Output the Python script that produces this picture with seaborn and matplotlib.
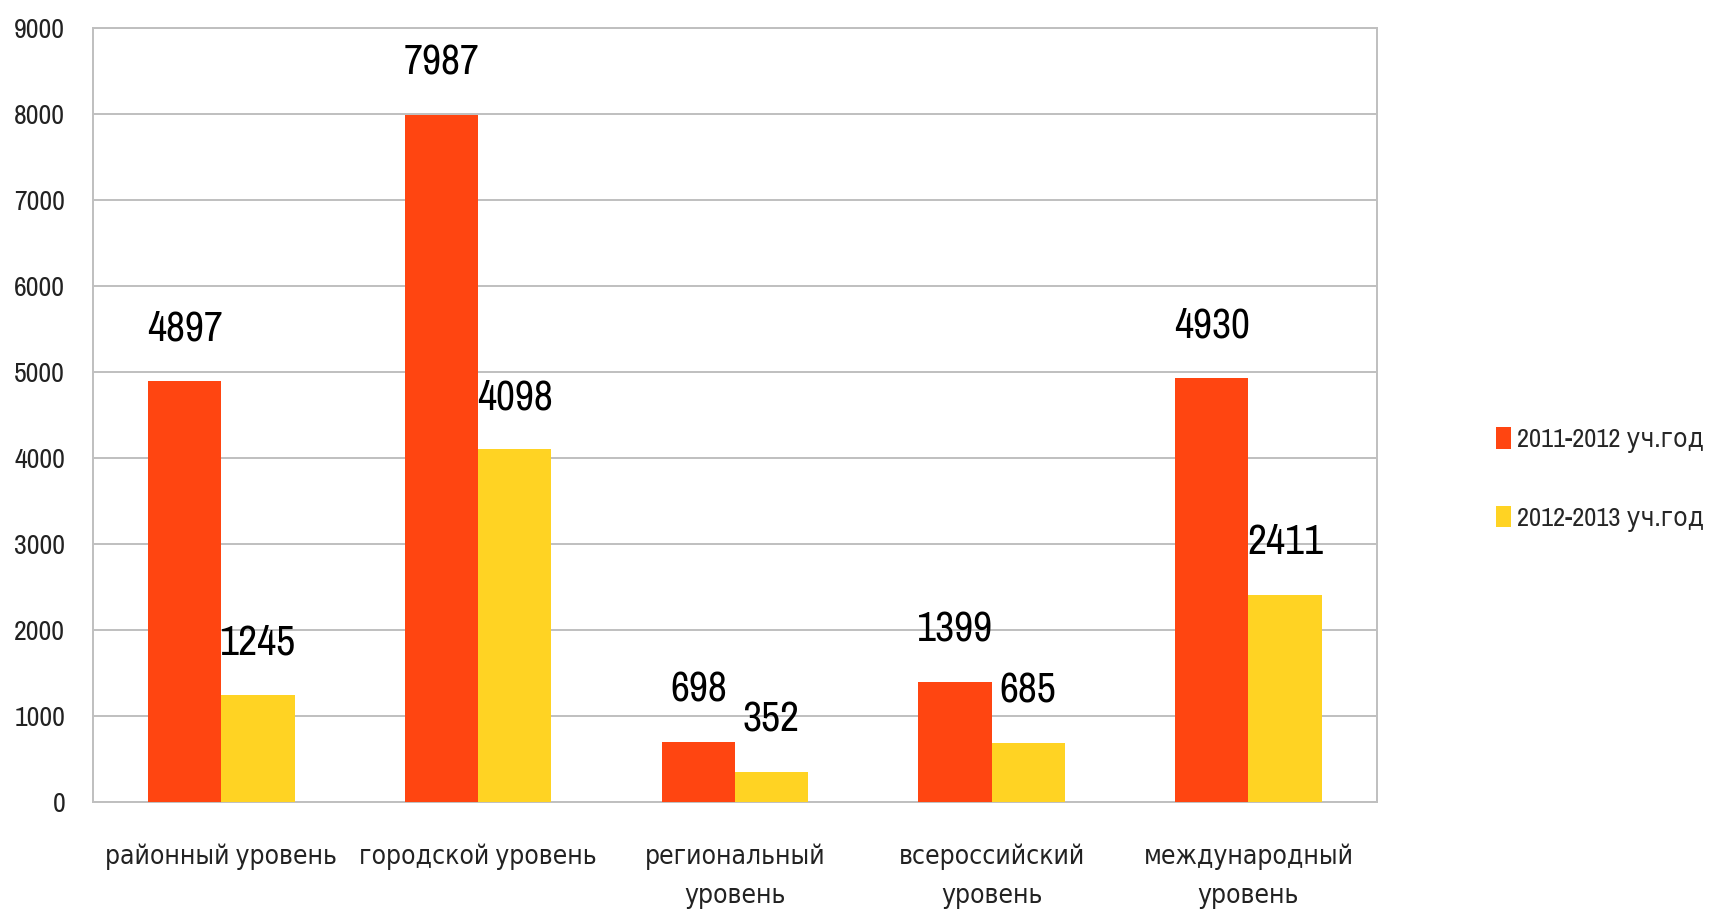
import matplotlib

matplotlib.use("Agg")

import matplotlib.pyplot as plt
import pandas as pd
import seaborn as sns
from matplotlib import font_manager

categories = [
    "районный уровень",
    "городской уровень",
    "региональный\nуровень",
    "всероссийский\nуровень",
    "международный\nуровень",
]
series_names = ["2011-2012 уч.год", "2012-2013 уч.год"]
values_2011 = [4897, 7987, 698, 1399, 4930]
values_2012 = [1245, 4098, 352, 685, 2411]
colors = ["#FF4511", "#FFD323"]

df = pd.DataFrame({
    "category": categories * 2,
    "year": [series_names[0]] * len(categories) + [series_names[1]] * len(categories),
    "value": values_2011 + values_2012,
})


def pick_narrow_font():
    # look for a condensed / narrow face among the installed fonts
    found = []
    for f in font_manager.fontManager.ttflist:
        path = f.fname.lower()
        if ("narrow" in path or "condensed" in path or "semicondensed" in path) \
                and f.weight in (400, "normal", "regular") and f.style == "normal" \
                and "bold" not in path and "light" not in path and "oblique" not in path:
            found.append(f)
    found.sort(key=lambda f: (0 if "narrow" in f.fname.lower() else
                              1 if "semicondensed" not in f.fname.lower() else 2))
    return found[0] if found else None


sns.set_theme(style="white")
narrow = pick_narrow_font()
if narrow is not None:
    plt.rcParams["font.family"] = [narrow.name, "DejaVu Sans"]
    plt.rcParams["font.stretch"] = narrow.stretch
    label_size, tick_size, ytick_size, legend_size = 30, 19, 20, 19
else:
    plt.rcParams["font.family"] = ["DejaVu Sans"]
    label_size, tick_size, ytick_size, legend_size = 24, 15, 16, 14

fig = plt.figure(figsize=(17.21, 9.22), dpi=100)
ax = fig.add_axes([0.054, 0.130, 0.746, 0.840])

sns.barplot(data=df, x="category", y="value", hue="year", palette=colors,
            width=0.57, saturation=1, ax=ax, zorder=3, linewidth=0)

for container in ax.containers:
    ax.bar_label(container, fmt="%d", padding=24, fontsize=label_size, color="black")

ax.set_ylim(0, 9000)
ax.set_yticks(range(0, 9001, 1000))
ax.yaxis.grid(True, color="#BFBFBF", linewidth=1.4, zorder=0)
ax.set_axisbelow(True)
for side in ["left", "right", "top", "bottom"]:
    ax.spines[side].set_visible(True)
    ax.spines[side].set_color("#BFBFBF")
    ax.spines[side].set_linewidth(1.4)
ax.tick_params(axis="y", length=0, pad=20, labelsize=ytick_size, labelcolor="#222222")
ax.tick_params(axis="x", length=0, pad=30, labelsize=tick_size, labelcolor="#222222")
for lbl in ax.get_xticklabels():
    lbl.set_linespacing(1.7)
ax.set_xlabel("")
ax.set_ylabel("")

ax.legend(loc="center left", bbox_to_anchor=(1.074, 0.417), frameon=False,
          fontsize=legend_size, handlelength=0.6, handleheight=0.9, handletextpad=0.2,
          labelspacing=2.0)

plt.savefig("out.png", dpi=100)
plt.close()
